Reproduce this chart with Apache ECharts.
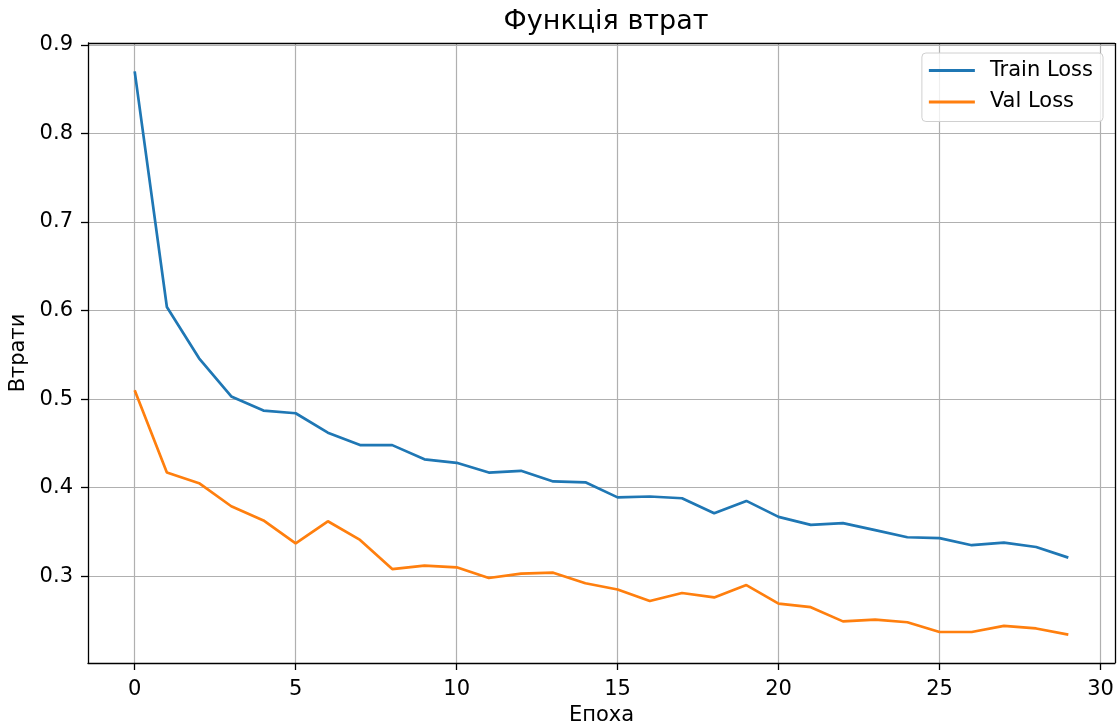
<!DOCTYPE html>
<html>
<head>
<meta charset="utf-8">
<script src="https://cdn.jsdelivr.net/npm/echarts@6/dist/echarts.min.js"></script>
<style>
  html, body { margin: 0; padding: 0; background: #fff; }
  #chart { width: 1120px; height: 726px; }
</style>
</head>
<body>
<div id="chart"></div>
<script>
// epochs and loss values
const epochs = [0, 1, 2, 3, 4, 5, 6, 7, 8, 9, 10, 11, 12, 13, 14, 15, 16, 17, 18, 19, 20, 21, 22, 23, 24, 25, 26, 27, 28, 29];
const trainLoss = [0.870, 0.604, 0.546, 0.503, 0.487, 0.484, 0.462, 0.448, 0.448, 0.432, 0.428, 0.417, 0.419, 0.407, 0.406,
                   0.389, 0.390, 0.388, 0.371, 0.385, 0.367, 0.358, 0.360, 0.352, 0.344, 0.343, 0.335, 0.338, 0.333, 0.321];
const valLoss = [0.510, 0.417, 0.405, 0.379, 0.363, 0.337, 0.362, 0.341, 0.308, 0.312, 0.310, 0.298, 0.303, 0.304, 0.292,
                 0.285, 0.272, 0.281, 0.276, 0.290, 0.269, 0.265, 0.249, 0.251, 0.248, 0.237, 0.237, 0.244, 0.241, 0.234];
const xTicks = [0, 5, 10, 15, 20, 25, 30];
const yTicks = [0.3, 0.4, 0.5, 0.6, 0.7, 0.8, 0.9];

const font = 'DejaVu Sans';
const chart = echarts.init(document.getElementById('chart'));

const pairs = (ys) => epochs.map((e, i) => [e, ys[i]]);

const option = {
    animation: false,
    backgroundColor: '#fff',
    title: {
        text: 'Функція втрат',
        left: 601,
        textAlign: 'center',
        top: 3,
        textStyle: { fontFamily: font, fontSize: 27, fontWeight: 'normal', color: '#000' }
    },
    legend: {
        orient: 'vertical',
        right: 17,
        top: 53,
        padding: [7, 10, 9, 7],
        itemWidth: 46,
        itemHeight: 3,
        itemGap: 10.5,
        backgroundColor: 'rgba(255,255,255,0.8)',
        borderColor: '#d0d0d0',
        borderWidth: 1,
        borderRadius: 4,
        textStyle: { fontFamily: font, fontSize: 21, color: '#000', padding: [0, 0, 0, 10] },
        data: [{ name: 'Train Loss', icon: 'rect' }, { name: 'Val Loss', icon: 'rect' }]
    },
    grid: { left: 88, right: 5, top: 43, bottom: 63, containLabel: false, outerBoundsMode: 'none' },
    xAxis: {
        type: 'value',
        min: -1.45,
        max: 30.45,
        name: 'Епоха',
        nameLocation: 'middle',
        nameGap: 42,
        nameTextStyle: { fontFamily: font, fontSize: 21, color: '#000' },
        axisLine: { show: true, onZero: false, lineStyle: { color: '#000', width: 1.3 } },
        axisTick: { show: true, length: 7, customValues: xTicks, lineStyle: { color: '#000', width: 1.3 } },
        axisLabel: { customValues: xTicks, margin: 16, fontFamily: font, fontSize: 21, color: '#000' },
        splitLine: { show: true, lineStyle: { color: '#b0b0b0', width: 1.2 } }
    },
    yAxis: {
        type: 'value',
        min: 0.202,
        max: 0.902,
        name: 'Втрати',
        nameLocation: 'middle',
        nameGap: 58,
        nameTextStyle: { fontFamily: font, fontSize: 21, color: '#000' },
        axisLine: { show: true, onZero: false, lineStyle: { color: '#000', width: 1.3 } },
        axisTick: { show: true, length: 7, customValues: yTicks, lineStyle: { color: '#000', width: 1.3 } },
        axisLabel: { customValues: yTicks, margin: 15, fontFamily: font, fontSize: 21, color: '#000',
                     formatter: (v) => v.toFixed(1) },
        splitLine: { show: true, lineStyle: { color: '#b0b0b0', width: 1.2 } }
    },
    series: [
        {
            name: 'Train Loss',
            type: 'line',
            data: pairs(trainLoss),
            symbol: 'none',
            color: '#1f77b4',
            lineStyle: { color: '#1f77b4', width: 2.7 },
            z: 3
        },
        {
            name: 'Val Loss',
            type: 'line',
            data: pairs(valLoss),
            symbol: 'none',
            color: '#ff7f0e',
            lineStyle: { color: '#ff7f0e', width: 2.7 },
            z: 3
        },
        {
            // top and right frame of the plot area
            type: 'line',
            data: [],
            markLine: {
                silent: true,
                symbol: 'none',
                label: { show: false },
                lineStyle: { color: '#000', width: 1.3, type: 'solid' },
                data: [
                    [{ coord: [-1.45, 0.902] }, { coord: [30.45, 0.902] }],
                    [{ coord: [30.45, 0.202] }, { coord: [30.45, 0.902] }]
                ]
            }
        }
    ]
};

chart.setOption(option);
</script>
</body>
</html>
